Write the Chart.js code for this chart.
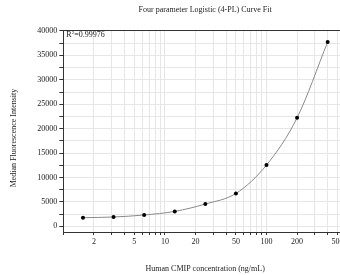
<!DOCTYPE html>
<html><head><meta charset="utf-8">
<script src="https://cdn.jsdelivr.net/npm/chart.js@4/dist/chart.umd.min.js"></script>
<style>html,body{margin:0;padding:0;overflow:hidden;background:#fff;width:340px;height:275px}canvas{display:block}</style>
</head><body>
<canvas id="c" width="360" height="275"></canvas>
<script>
const chartTitle = "Four parameter Logistic (4-PL) Curve Fit";
const xTitle = "Human CMIP concentration (ng/mL)";
const yTitle = "Median Fluorescence Intensity";
const r2Label = "0.99976";
const concentrations = [1.5625, 3.125, 6.25, 12.5, 25, 50, 100, 200, 400];
const mfi = [1780, 1921, 2330, 3066, 4579, 6745, 12551, 22220, 37755];
const xTickValues = [1,2,3,4,5,6,7,8,9,10,20,30,40,50,60,70,80,90,100,200,300,400,500,600];
const xTickLabels = [2,5,10,20,50,100,200,500];
const yTickValues = [0,2500,5000,7500,10000,12500,15000,17500,20000,22500,25000,27500,30000,32500,35000,37500,40000];
const yTickLabels = [0,5000,10000,15000,20000,25000,30000,35000,40000];

const FONT = "'Liberation Serif','Times New Roman',serif";
const pts = concentrations.map((x,i)=>({x:x,y:mfi[i]}));

const textPlugin = {
  id:'texts',
  afterDraw(chart){
    const ctx = chart.ctx, a = chart.chartArea;
    ctx.save();
    ctx.strokeStyle='#333'; ctx.lineWidth=1;
    ctx.beginPath();
    ctx.moveTo(a.left, a.top+0.5); ctx.lineTo(a.right, a.top+0.5);
    ctx.moveTo(a.right-0.5, a.top); ctx.lineTo(a.right-0.5, a.bottom);
    ctx.stroke();
    ctx.fillStyle='#222';
    ctx.font = "8px "+FONT;
    ctx.textAlign='center'; ctx.textBaseline='middle';
    const cx = (a.left+a.right)/2;
    ctx.fillText(chartTitle, cx, 10);
    ctx.fillText(xTitle, cx, 269);
    ctx.save();
    ctx.translate(14, 138);
    ctx.rotate(-Math.PI/2);
    ctx.fillText(yTitle, 0, 0);
    ctx.restore();
    ctx.textAlign='left';
    let x0 = a.left+3, y0 = a.top+5;
    ctx.font = "8px "+FONT;
    ctx.fillText("R", x0, y0);
    let w = ctx.measureText("R").width;
    ctx.font = "5px "+FONT;
    ctx.fillText("2", x0+w, y0-2);
    let w2 = ctx.measureText("2").width;
    ctx.font = "8px "+FONT;
    ctx.fillText("=" + r2Label, x0+w+w2, y0);
    ctx.restore();
  }
};

new Chart(document.getElementById('c'), {
  type:'line',
  data:{datasets:[
    {label:'fit', data:pts, borderColor:'#8a8a8a', borderWidth:1, pointRadius:0, cubicInterpolationMode:'monotone', fill:false, order:2},
    {label:'points', data:pts, showLine:false, pointRadius:2, pointBackgroundColor:'#000', pointBorderColor:'#000', pointBorderWidth:0, order:1}
  ]},
  options:{
    responsive:false, animation:false,
    layout:{padding:{top:30,right:13,left:0,bottom:0}},
    plugins:{legend:{display:false}, tooltip:{enabled:false}, title:{display:false}},
    scales:{
      x:{type:'logarithmic', min:1, max:620,
        afterBuildTicks(s){ s.ticks = xTickValues.map(v=>({value:v})); },
        afterFit(s){ s.height = 43; },
        grid:{color:'#e6e6e6', lineWidth:1, tickColor:'#333', tickLength:3, drawTicks:true},
        border:{color:'#333', width:1},
        ticks:{autoSkip:false, maxRotation:0, padding:2, color:'#222', font:{family:FONT, size:8},
          callback(v){ return xTickLabels.includes(v) ? String(v) : ''; }}
      },
      y:{type:'linear', min:-1150, max:40200,
        afterBuildTicks(s){ s.ticks = yTickValues.map(v=>({value:v})); },
        afterFit(s){ s.width = 63.3; },
        grid:{color:'#e6e6e6', lineWidth:1, tickColor:'#333', tickLength:4, drawTicks:true},
        border:{color:'#333', width:1},
        ticks:{autoSkip:false, padding:2, color:'#222', font:{family:FONT, size:8},
          callback(v){ return yTickLabels.includes(v) ? String(v) : ''; }}
      }
    }
  },
  plugins:[textPlugin]
});
</script>
</body></html>
